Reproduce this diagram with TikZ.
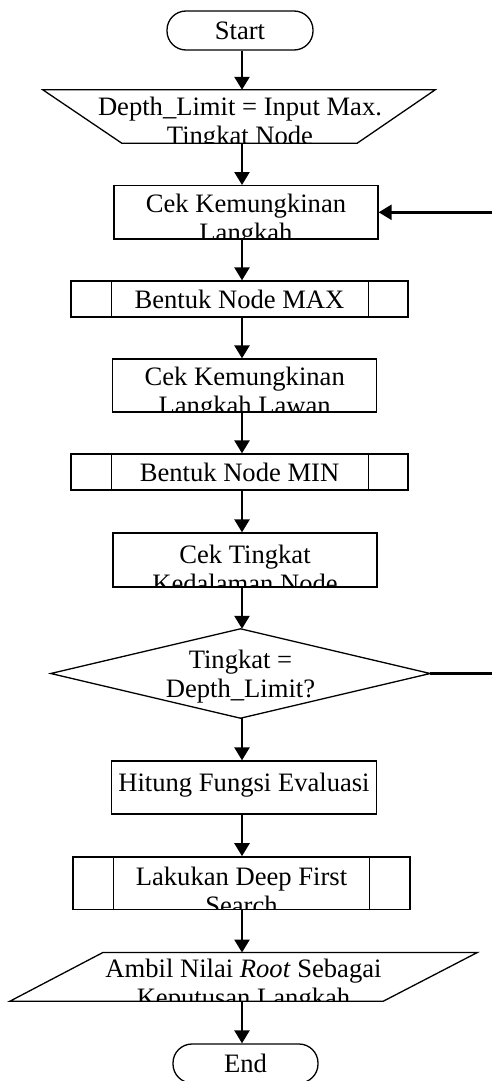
\documentclass[tikz,border=0pt]{standalone}
\usepackage{fontspec}
\setmainfont{Liberation Serif}
\usetikzlibrary{arrows.meta}
\begin{document}
\begin{tikzpicture}[x=1pt,y=-1pt,
  shapebox/.style={draw,line width=1.3pt,inner sep=0pt,minimum width=#1},
  ghost/.style={inner sep=0pt},
  txt/.style={inner sep=0pt,align=center,font=\fontsize{26.6}{29}\selectfont},
  arr/.style={line width=2.5pt,-{Triangle[length=13pt,width=15pt]}},
  edgeline/.style={line width=1.3pt},
]
\useasboundingbox (0,0) rectangle (491,1081);
\coordinate (c) at (242,0);

% Start
\node[draw,line width=1.3pt,rounded corners=19pt,minimum width=146pt,minimum height=39pt,txt] (start) at (240,30.5) {Start};

% Input (manual input trapezoid)
\node[ghost,minimum width=392pt,minimum height=53pt] (inp) at (239,116.5) {};
\draw[edgeline] (inp.north west) -- (inp.north east) -- ([xshift=-78pt]inp.south east) -- ([xshift=79pt]inp.south west) -- cycle;
\begin{scope}
  \clip (inp.north west) rectangle (inp.south east);
  \node[txt] (tinp) at (240,124) {Depth\_Limit = Input Max.\\Tingkat Node};
\end{scope}

% Box 1
\node[shapebox=264pt,minimum height=53.3pt] (box1) at (246,212.3) {};
\begin{scope}
  \clip (box1.north west) rectangle (box1.south east);
  \node[txt] (tbox1) at (246,221) {Cek Kemungkinan\\Langkah};
\end{scope}

% Sub 1
\node[shapebox=337pt,minimum height=36pt,txt] (sub1) at (239.5,299) {Bentuk Node MAX};
\draw[edgeline] ([xshift=41pt]sub1.north west) -- ([xshift=41pt]sub1.south west);
\draw[edgeline] ([xshift=-40pt]sub1.north east) -- ([xshift=-40pt]sub1.south east);

% Box 2
\node[shapebox=264pt,minimum height=53pt] (box2) at (244.7,385.5) {};
\begin{scope}
  \clip (box2.north west) rectangle (box2.south east);
  \node[txt] (tbox2) at (244.7,394) {Cek Kemungkinan\\Langkah Lawan};
\end{scope}

% Sub 2
\node[shapebox=337pt,minimum height=36pt,txt] (sub2) at (239.5,472) {Bentuk Node MIN};
\draw[edgeline] ([xshift=41pt]sub2.north west) -- ([xshift=41pt]sub2.south west);
\draw[edgeline] ([xshift=-40pt]sub2.north east) -- ([xshift=-40pt]sub2.south east);

% Box 3
\node[shapebox=264pt,minimum height=54pt] (box3) at (245,560) {};
\begin{scope}
  \clip (box3.north west) rectangle (box3.south east);
  \node[txt] (tbox3) at (245,569) {Cek Tingkat\\Kedalaman Node};
\end{scope}

% Decision
\node[ghost,minimum width=379pt,minimum height=89pt] (dia) at (240.5,673.5) {};
\draw[edgeline] (dia.north) -- (dia.east) -- (dia.south) -- (dia.west) -- cycle;
\node[txt] (tdia) at (240.5,676.5) {Tingkat =\\Depth\_Limit?};

% Box 4
\node[shapebox=265pt,minimum height=53pt] (box4) at (244,787.5) {};
\node[txt] (tbox4) at (244,785) {Hitung Fungsi Evaluasi};

% Sub 3
\node[shapebox=337pt,minimum height=52.3pt] (sub3) at (241.5,883) {};
\draw[edgeline] ([xshift=41pt]sub3.north west) -- ([xshift=41pt]sub3.south west);
\draw[edgeline] ([xshift=-41pt]sub3.north east) -- ([xshift=-41pt]sub3.south east);
\begin{scope}
  \clip (sub3.north west) rectangle (sub3.south east);
  \node[txt] (tsub3) at (241.5,891) {Lakukan Deep First\\Search};
\end{scope}

% Output parallelogram
\node[ghost,minimum width=467pt,minimum height=48.3pt] (para) at (243.5,976.9) {};
\draw[edgeline] ([xshift=93pt]para.north west) -- (para.north east) -- ([xshift=-94pt]para.south east) -- (para.south west) -- cycle;
\begin{scope}
  \clip (para.north west) rectangle (para.south east);
  \node[txt] (tpara) at (243.5,986) {Ambil Nilai \textit{Root} Sebagai\\Keputusan Langkah};
\end{scope}

% End
\node[draw,line width=1.3pt,rounded corners=19pt,minimum width=145pt,minimum height=39pt,txt] (end) at (245.5,1063.5) {End};

% Connectors
\draw[arr] (start.south -| c) -- (inp.north -| c);
\draw[arr] (inp.south -| c) -- (box1.north -| c);
\draw[arr] (box1.south -| c) -- (sub1.north -| c);
\draw[arr] (sub1.south -| c) -- (box2.north -| c);
\draw[arr] (box2.south -| c) -- (sub2.north -| c);
\draw[arr] (sub2.south -| c) -- (box3.north -| c);
\draw[arr] (box3.south -| c) -- (dia.north -| c);
\draw[arr] (dia.south -| c) -- (box4.north -| c);
\draw[arr] (box4.south -| c) -- (sub3.north -| c);
\draw[arr] (sub3.south -| c) -- (para.north -| c);
\draw[arr] (para.south -| c) -- (end.north -| c);
\draw[arr] (dia.east) -- ++(70,0) |- (box1.east);
\end{tikzpicture}
\end{document}
